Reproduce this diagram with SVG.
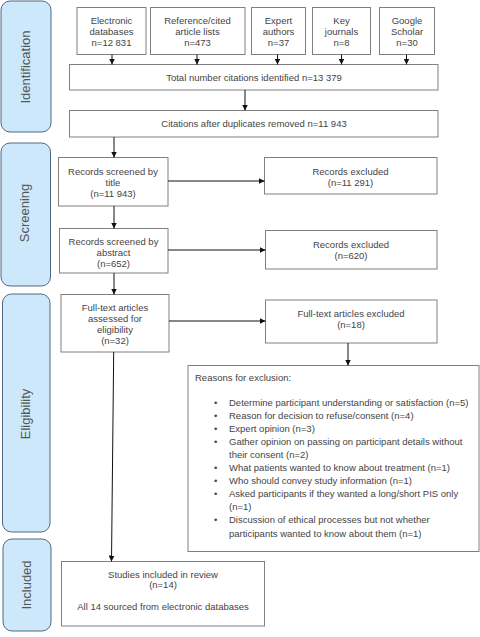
<svg xmlns="http://www.w3.org/2000/svg" width="480" height="637" viewBox="0 0 480 637">
<defs>
<marker id="ah" viewBox="0 0 10 10" refX="10" refY="5" markerWidth="6" markerHeight="6" markerUnits="userSpaceOnUse" orient="auto">
<path d="M0,0 L10,5 L0,10 z" fill="#111"/>
</marker>
</defs>
<style>
.phase{fill:#cde8fb;stroke:#4f6883;stroke-width:1}
.ptext{font-family:"Liberation Sans",Arial,sans-serif;font-size:13px;fill:#555;text-anchor:middle}
.box{fill:#fff;stroke:#808080;stroke-width:1}
.t{font-family:"Liberation Sans",Arial,sans-serif;font-size:9.5px;fill:#444}
.c{text-anchor:middle}
.con{stroke:#111;stroke-width:1;fill:none;marker-end:url(#ah)}
</style>
<rect width="480" height="637" fill="#fff"/>

<g id="phase-identification">
<rect class="phase" x="1" y="1" width="50" height="131" rx="9"/>
<text class="ptext" transform="translate(30,67) rotate(-90)">Identification</text>
</g>
<g id="phase-screening">
<rect class="phase" x="1" y="143" width="49.5" height="143" rx="9"/>
<text class="ptext" transform="translate(29,213) rotate(-90)">Screening</text>
</g>
<g id="phase-eligibility">
<rect class="phase" x="2.5" y="294" width="47.5" height="238" rx="9"/>
<text class="ptext" transform="translate(30,414) rotate(-90)">Eligibility</text>
</g>
<g id="phase-included">
<rect class="phase" x="3" y="539" width="48" height="92" rx="9"/>
<text class="ptext" transform="translate(31,585) rotate(-90)">Included</text>
</g>

<g id="src-electronic">
<rect class="box" x="77" y="7.5" width="69" height="47"/>
<text class="t c" x="111.5" y="24">Electronic</text>
<text class="t c" x="111.5" y="35.3">databases</text>
<text class="t c" x="111.5" y="46">n=12 831</text>
</g>
<g id="src-reference">
<rect class="box" x="150.5" y="7.5" width="94.5" height="47"/>
<text class="t c" x="197.5" y="24">Reference/cited</text>
<text class="t c" x="197.5" y="35.3">article lists</text>
<text class="t c" x="197.5" y="46">n=473</text>
</g>
<g id="src-expert">
<rect class="box" x="251.5" y="7.5" width="54" height="47"/>
<text class="t c" x="278.5" y="24">Expert</text>
<text class="t c" x="278.5" y="35.3">authors</text>
<text class="t c" x="278.5" y="46">n=37</text>
</g>
<g id="src-journals">
<rect class="box" x="312.5" y="7.5" width="58" height="47"/>
<text class="t c" x="341.5" y="24">Key</text>
<text class="t c" x="341.5" y="35.3">journals</text>
<text class="t c" x="341.5" y="46">n=8</text>
</g>
<g id="src-scholar">
<rect class="box" x="379.5" y="7.5" width="55" height="47"/>
<text class="t c" x="407" y="24">Google</text>
<text class="t c" x="407" y="35.3">Scholar</text>
<text class="t c" x="407" y="46">n=30</text>
</g>

<g id="total">
<rect class="box" x="69.5" y="64.5" width="368.5" height="25.5"/>
<text class="t c" x="254" y="80.5">Total number citations identified n=13 379</text>
</g>
<g id="dedup">
<rect class="box" x="69.5" y="110.5" width="368.5" height="26.5"/>
<text class="t c" x="254" y="126.5">Citations after duplicates removed n=11 943</text>
</g>

<g id="screen-title">
<rect class="box" x="58.5" y="157.5" width="109.5" height="48.5"/>
<text class="t c" x="113" y="174.5">Records screened by</text>
<text class="t c" x="113" y="185.5">title</text>
<text class="t c" x="113" y="196.5">(n=11 943)</text>
</g>
<g id="excluded-title">
<rect class="box" x="264.5" y="157.5" width="172.5" height="36.5"/>
<text class="t c" x="350.5" y="174.5">Records excluded</text>
<text class="t c" x="350.5" y="185.5">(n=11 291)</text>
</g>

<g id="screen-abstract">
<rect class="box" x="59.5" y="228.5" width="108.5" height="44.5"/>
<text class="t c" x="113.5" y="244.5">Records screened by</text>
<text class="t c" x="113.5" y="255.5">abstract</text>
<text class="t c" x="113.5" y="266.5">(n=652)</text>
</g>
<g id="excluded-abstract">
<rect class="box" x="265.5" y="230.5" width="171.5" height="38.5"/>
<text class="t c" x="351" y="247.5">Records excluded</text>
<text class="t c" x="351" y="258.5">(n=620)</text>
</g>

<g id="fulltext">
<rect class="box" x="61" y="294.5" width="108" height="57.5"/>
<text class="t c" x="115" y="310.5">Full-text articles</text>
<text class="t c" x="115" y="321.5">assessed for</text>
<text class="t c" x="115" y="332.5">eligibility</text>
<text class="t c" x="115" y="344">(n=32)</text>
</g>
<g id="excluded-fulltext">
<rect class="box" x="265.5" y="300" width="171.5" height="43"/>
<text class="t c" x="351" y="316.5">Full-text articles excluded</text>
<text class="t c" x="351" y="327.5">(n=18)</text>
</g>

<g id="reasons">
<rect class="box" x="188" y="365.5" width="291" height="186"/>
<text class="t" x="195" y="380.5">Reasons for exclusion:</text>
<g class="t">
<text x="214" y="405.5">•</text><text x="229" y="405.5">Determine participant understanding or satisfaction (n=5)</text>
<text x="214" y="418.6">•</text><text x="229" y="418.6">Reason for decision to refuse/consent (n=4)</text>
<text x="214" y="431.7">•</text><text x="229" y="431.7">Expert opinion (n=3)</text>
<text x="214" y="444.8">•</text><text x="229" y="444.8">Gather opinion on passing on participant details without</text>
<text x="229" y="457.9">their consent (n=2)</text>
<text x="214" y="471">•</text><text x="229" y="471">What patients wanted to know about treatment (n=1)</text>
<text x="214" y="484.1">•</text><text x="229" y="484.1">Who should convey study information (n=1)</text>
<text x="214" y="497.2">•</text><text x="229" y="497.2">Asked participants if they wanted a long/short PIS only</text>
<text x="229" y="510.3">(n=1)</text>
<text x="214" y="523.4">•</text><text x="229" y="523.4">Discussion of ethical processes but not whether</text>
<text x="229" y="536.5">participants wanted to know about them (n=1)</text>
</g>
</g>

<g id="included">
<rect class="box" x="61.5" y="561.5" width="203" height="64.5"/>
<text class="t c" x="163" y="577.5">Studies included in review</text>
<text class="t c" x="163" y="588">(n=14)</text>
<text class="t c" x="163" y="610">All 14 sourced from electronic databases</text>
</g>

<g id="connectors">
<line class="con" x1="112" y1="54.5" x2="112" y2="64.5"/>
<line class="con" x1="197" y1="54.5" x2="197" y2="64.5"/>
<line class="con" x1="277.5" y1="54.5" x2="277.5" y2="64.5"/>
<line class="con" x1="341.5" y1="54.5" x2="341.5" y2="64.5"/>
<line class="con" x1="406.5" y1="54.5" x2="406.5" y2="64.5"/>
<line class="con" x1="245" y1="90" x2="245" y2="110.5"/>
<line class="con" x1="114" y1="137" x2="114" y2="157.5"/>
<line class="con" x1="168" y1="181" x2="264.5" y2="181"/>
<line class="con" x1="114" y1="206" x2="114" y2="228.5"/>
<line class="con" x1="168" y1="250" x2="265.5" y2="250"/>
<line class="con" x1="114" y1="273" x2="114" y2="294.5"/>
<line class="con" x1="169" y1="321" x2="265.5" y2="321"/>
<line class="con" x1="348" y1="343" x2="348" y2="365.5"/>
<line class="con" x1="113.7" y1="352" x2="111.5" y2="561.5"/>
</g>
</svg>
